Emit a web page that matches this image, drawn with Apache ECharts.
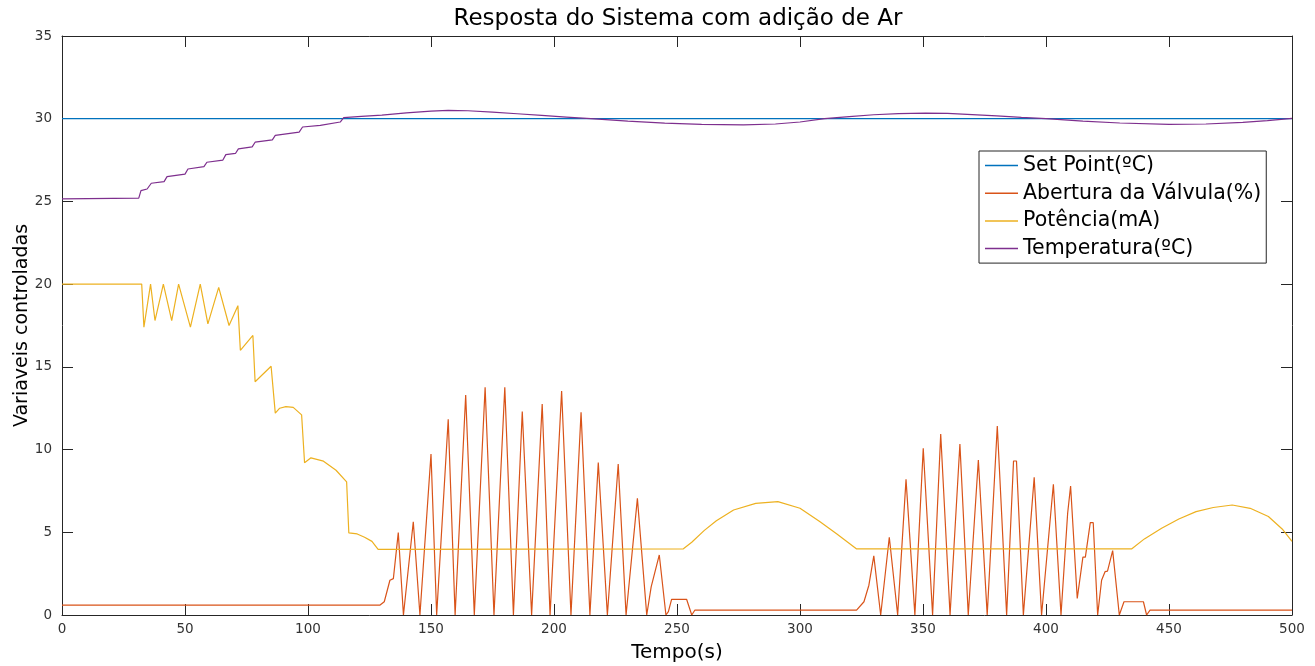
<!DOCTYPE html>
<html>
<head>
<meta charset="utf-8">
<script src="https://cdn.jsdelivr.net/npm/echarts@6/dist/echarts.min.js"></script>
<style>
html,body{margin:0;padding:0;background:#fff;}
#chart{width:1315px;height:666px;}
</style>
</head>
<body>
<div id="chart"></div>
<script>
// ---- data (time in s, value) ----
const seriesNames = ['Set Point(ºC)', 'Abertura da Válvula(%)', 'Potência(mA)', 'Temperatura(ºC)'];
const xTicks = [0, 50, 100, 150, 200, 250, 300, 350, 400, 450, 500];
const yTicks = [0, 5, 10, 15, 20, 25, 30, 35];

const setPoint = [[0, 30], [500, 30]];

const valvula = [
  [0,0.6],[129.3,0.6],[131,0.8],[133.3,2.1],[134.7,2.2],[136.7,4.98],[138.8,0],
  [142.8,5.64],[145.5,0],[150,9.73],[152.3,0],[157,11.83],[159.8,0],[164.1,13.3],[167.6,0],
  [172,13.77],[175.6,0],[180,13.77],[183.5,0],[187.1,12.3],[190.9,0],[195.2,12.75],[198.4,0],
  [203.1,13.54],[206.9,0],[211,12.25],[214.6,0],[218,9.21],[221.7,0],[226.1,9.13],[229.3,0],
  [233.9,7.05],[237.7,0],[239.5,1.7],[242.8,3.63],[245.5,0],[246.5,0.2],[247.8,0.95],[253.9,0.95],
  [256,0],[257.3,0.3],[323,0.3],[326,0.8],[328,1.8],[330,3.57],[332.8,0],[336.3,4.7],[339.7,0],
  [343.1,8.2],[346.7,0],[350.1,10.08],[353.9,0],[357.2,10.94],[361,0],[365,10.34],[368.4,0],
  [372.5,9.37],[376.1,0],[380.2,11.43],[384,0],[386.8,9.31],[388,9.31],[390.8,0],[395.2,8.32],
  [398.2,0],[403,7.9],[406.1,0],[408.8,6.15],[409.5,6.2],[410,7.8],[412.7,1.0],[413.5,1.05],
  [415,3.5],[416,3.5],[418,5.58],[419.2,5.58],[421,0],[422.6,2.1],[424,2.62],[425,2.65],
  [427.1,3.89],[429.8,0],[431.7,0.8],[439.6,0.8],[440.9,0],[442.3,0.3],[500,0.3]
];

const potencia = [
  [0,20],[32.4,20],[33.3,17.4],[36.0,20],[37.8,17.8],[41.2,20],[44.6,17.8],[47.4,20],
  [52.2,17.4],[56.2,20],[59.3,17.6],[63.7,19.8],[67.9,17.5],[71.5,18.7],[72.5,16.0],
  [77.6,16.9],[78.5,14.1],[85,15.04],[86.7,12.2],[88.5,12.5],[91,12.6],[94,12.55],[97.4,12.1],
  [98.6,9.2],[101.2,9.5],[106.3,9.3],[111.4,8.75],[115.7,8.05],[116.6,4.96],[120,4.9],
  [123,4.7],[126,4.45],[128.5,3.97],[252.6,4.0],[256,4.4],[261,5.1],[266,5.7],[273,6.35],
  [282,6.75],[291,6.85],[300,6.45],[308,5.65],[315,4.9],[322.9,4.0],[434.9,4.0],[440,4.6],
  [447,5.24],[454,5.8],[461,6.25],[468,6.5],[475.7,6.65],[483,6.45],[490.4,5.95],[496,5.2],[500,4.45]
];

const temperatura = [
  [0,25.15],[31.2,25.2],[32.1,25.65],[34.6,25.75],[36.3,26.1],[41.5,26.2],[42.7,26.5],[50,26.65],
  [51.2,26.96],[57.7,27.1],[58.9,27.37],[65.4,27.5],[66.6,27.83],[70.5,27.9],[71.7,28.18],
  [77.3,28.3],[78.5,28.58],[85.5,28.72],[86.7,28.99],[96.4,29.19],[97.8,29.5],[105,29.6],
  [113.1,29.8],[114.5,30.06],[121.7,30.14],[130,30.22],[140,30.35],[150,30.46],[157,30.5],
  [165,30.48],[175,30.4],[185,30.3],[195,30.2],[205,30.1],[215,30.0],[230,29.85],[245,29.73],
  [260,29.66],[277,29.63],[290,29.68],[300,29.8],[310,30.0],[320,30.13],[330,30.24],[340,30.31],
  [351,30.34],[360,30.32],[370,30.25],[380,30.17],[390,30.08],[400,30.0],[415,29.85],[430,29.74],
  [450,29.66],[465,29.68],[480,29.78],[490,29.88],[500,30.02]
];

const colors = ['#0072BD', '#D95319', '#EDB120', '#7E2F8E'];
const FONT = 'DejaVu Sans';
const axisColor = '#262626';

const chart = echarts.init(document.getElementById('chart'), null, {renderer: 'canvas'});

const baseAxisLine = {show: true, onZero: false, lineStyle: {color: axisColor, width: 1}};
const tickStyle = {show: true, inside: true, length: 11, lineStyle: {color: axisColor, width: 1}};

const option = {
  backgroundColor: '#ffffff',
  animation: false,
  color: colors,
  title: {
    text: 'Resposta do Sistema com adição de Ar',
    left: 673, top: 3, textAlign: 'center',
    textStyle: {fontFamily: FONT, fontSize: 23, fontWeight: 'normal', color: '#000'}
  },
  legend: {
    orient: 'vertical',
    left: 979, top: 151,
    padding: [4, 5, 4, 6],
    itemGap: 6.7,
    itemWidth: 33, itemHeight: 1.5,
    icon: 'rect',
    selectedMode: false,
    backgroundColor: '#fff',
    borderColor: axisColor, borderWidth: 1,
    textStyle: {fontFamily: FONT, fontSize: 20.5, color: '#000', lineHeight: 20},
    data: seriesNames
  },
  grid: {left: 62, right: 23, top: 36, bottom: 51, containLabel: false, outerBoundsMode: 'none'},
  xAxis: [{
    type: 'value', min: 0, max: 500, interval: 50,
    name: 'Tempo(s)', nameLocation: 'middle', nameGap: 28, nameMoveOverlap: false,
    nameTextStyle: {fontFamily: FONT, fontSize: 20, color: '#000'},
    axisLine: baseAxisLine, axisTick: tickStyle,
    axisLabel: {fontFamily: FONT, fontSize: 13.5, color: '#333', margin: 7,
      formatter: v => xTicks.includes(v) ? String(v) : ''},
    splitLine: {show: false}
  }, {
    type: 'value', min: 0, max: 500, interval: 50, position: 'top',
    axisLine: baseAxisLine, axisTick: tickStyle, axisLabel: {show: false}, splitLine: {show: false}
  }],
  yAxis: [{
    type: 'value', min: 0, max: 35, interval: 5,
    name: 'Variaveis controladas', nameLocation: 'middle', nameGap: 30, nameMoveOverlap: false,
    nameTextStyle: {fontFamily: FONT, fontSize: 19, color: '#000'},
    axisLine: baseAxisLine, axisTick: tickStyle,
    axisLabel: {fontFamily: FONT, fontSize: 13.5, color: '#333', margin: 10,
      formatter: v => yTicks.includes(v) ? String(v) : ''},
    splitLine: {show: false}
  }, {
    type: 'value', min: 0, max: 35, interval: 5, position: 'right',
    axisLine: baseAxisLine, axisTick: tickStyle, axisLabel: {show: false}, splitLine: {show: false}
  }],
  series: [
    {name: seriesNames[0], data: setPoint},
    {name: seriesNames[1], data: valvula},
    {name: seriesNames[2], data: potencia},
    {name: seriesNames[3], data: temperatura}
  ].map((s, i) => Object.assign({
    type: 'line', showSymbol: false, symbol: 'none', smooth: false,
    lineStyle: {width: 1.2, color: colors[i]}, itemStyle: {color: colors[i]},
    xAxisIndex: 0, yAxisIndex: 0
  }, s))
};
chart.setOption(option);
</script>
</body>
</html>
